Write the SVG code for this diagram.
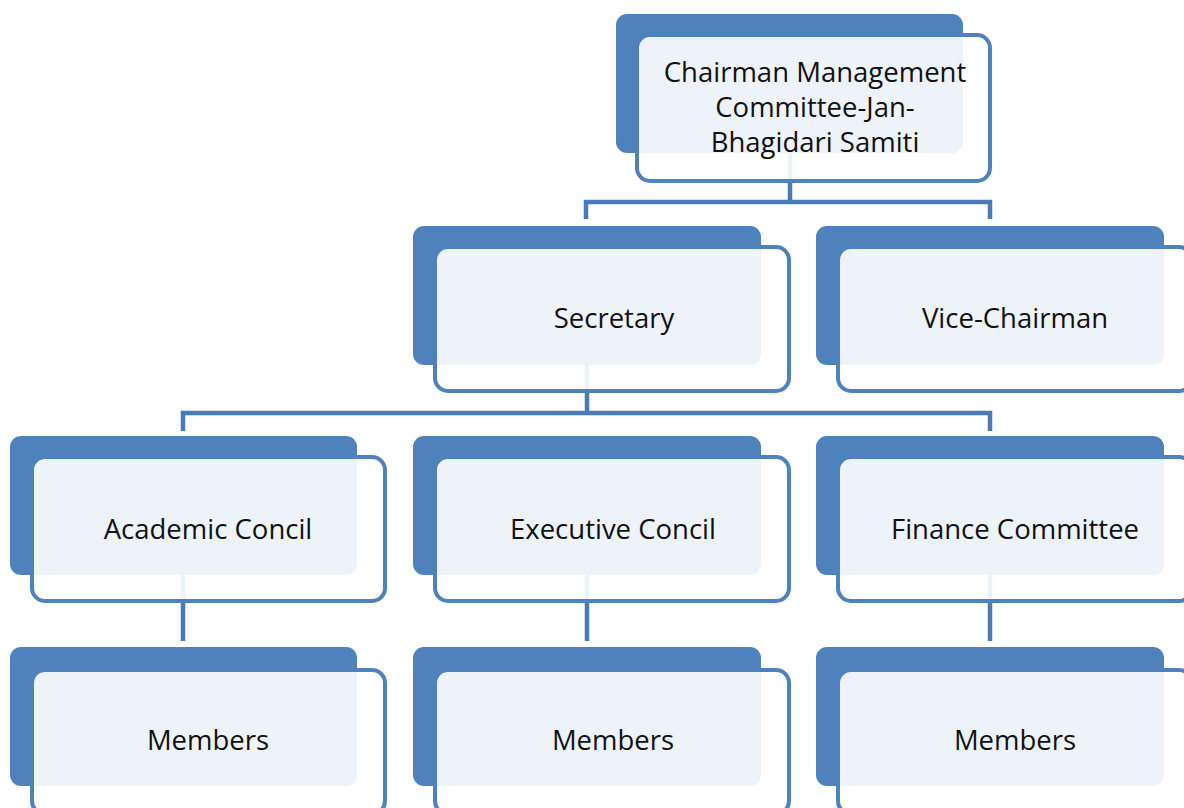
<svg xmlns="http://www.w3.org/2000/svg" width="1184" height="808" viewBox="0 0 1184 808">
<style>
.back{fill:#4F81BD}
.front{fill:#FFFFFF;fill-opacity:0.9;stroke:#4F81BD;stroke-width:4}
.lbl{font-family:"Open Sans","Noto Sans",sans-serif;font-size:27.5px;fill:#111;text-anchor:middle;font-variant-ligatures:none}
.conn{fill:none;stroke:#4A7BB7;stroke-width:4.5}
</style>
<rect width="1184" height="808" fill="#FFFFFF"/>
<g id="connectors" class="conn">
<path d="M790,153 V202 M586,219 V202 H990 V219"/>
<path d="M587,365 V413 M183,431 V413 H990 V431"/>
<path d="M183,575 V641 M587,575 V641 M990,575 V641"/>
</g>
<g id="chairman">
<rect class="back" x="616" y="14" width="347" height="139" rx="11"/>
<rect class="front" x="637" y="35" width="353" height="146" rx="13"/>
<text class="lbl" x="815" y="82">Chairman Management</text>
<text class="lbl" x="815" y="117">Committee-Jan-</text>
<text class="lbl" x="815" y="152">Bhagidari Samiti</text>
</g>
<g id="secretary">
<rect class="back" x="413" y="226" width="348" height="139" rx="11"/>
<rect class="front" x="435" y="247" width="354" height="144" rx="13"/>
<text class="lbl" x="614" y="328">Secretary</text>
</g>
<g id="vice-chairman">
<rect class="back" x="816" y="226" width="348" height="139" rx="11"/>
<rect class="front" x="838" y="247" width="354" height="144" rx="13"/>
<text class="lbl" x="1015" y="328">Vice-Chairman</text>
</g>
<g id="academic-concil">
<rect class="back" x="10" y="436" width="347" height="139" rx="11"/>
<rect class="front" x="32" y="457" width="353" height="144" rx="13"/>
<text class="lbl" x="208" y="539">Academic Concil</text>
</g>
<g id="executive-concil">
<rect class="back" x="413" y="436" width="348" height="139" rx="11"/>
<rect class="front" x="435" y="457" width="354" height="144" rx="13"/>
<text class="lbl" x="613" y="539">Executive Concil</text>
</g>
<g id="finance-committee">
<rect class="back" x="816" y="436" width="348" height="139" rx="11"/>
<rect class="front" x="838" y="457" width="354" height="144" rx="13"/>
<text class="lbl" x="1015" y="539">Finance Committee</text>
</g>
<g id="members-1">
<rect class="back" x="10" y="647" width="347" height="139" rx="11"/>
<rect class="front" x="32" y="670" width="353" height="144" rx="13"/>
<text class="lbl" x="208" y="750">Members</text>
</g>
<g id="members-2">
<rect class="back" x="413" y="647" width="348" height="139" rx="11"/>
<rect class="front" x="435" y="670" width="354" height="144" rx="13"/>
<text class="lbl" x="613" y="750">Members</text>
</g>
<g id="members-3">
<rect class="back" x="816" y="647" width="348" height="139" rx="11"/>
<rect class="front" x="838" y="670" width="354" height="144" rx="13"/>
<text class="lbl" x="1015" y="750">Members</text>
</g>
</svg>
